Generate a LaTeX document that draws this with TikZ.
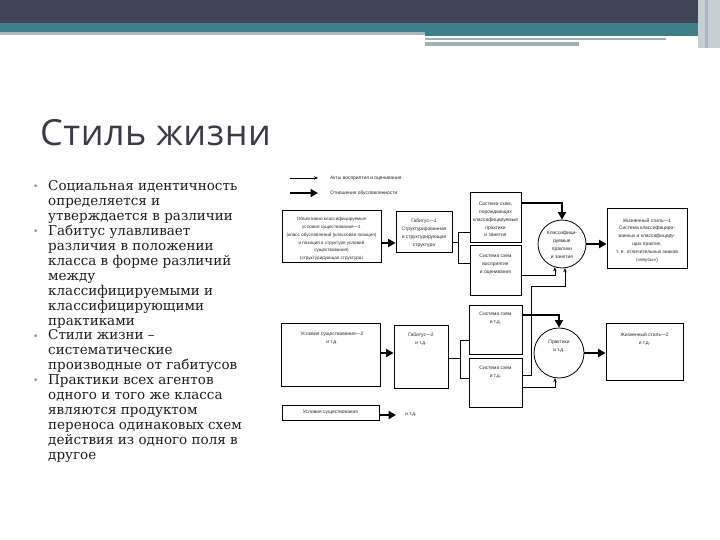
\documentclass[tikz,border=0pt]{standalone}
\usepackage{fontspec}
\setmainfont{DejaVu Serif}
\newfontfamily\titlefont{Open Sans}
\newfontfamily\dfont{Liberation Sans}
\usetikzlibrary{arrows.meta,calc}
\definecolor{hdrdark}{HTML}{3F4556}
\definecolor{hdrteal}{HTML}{3F7F88}
\definecolor{hdrlight}{HTML}{A9B8BE}
\definecolor{hdrgray}{HTML}{9FB0B3}
\definecolor{titlecol}{HTML}{3A3A48}
\definecolor{bodytext}{HTML}{1E1E1E}
\definecolor{bulletcol}{HTML}{8A8A8A}
\definecolor{dtext}{HTML}{262626}
\tikzset{
  dbox/.style={draw=black, line width=0.8pt, inner sep=0pt},
  dtxt/.style={font=\dfont\fontsize{4.9}{7.9}\selectfont, text=dtext, align=center, inner sep=0pt},
  dcirc/.style={draw=black, line width=0.8pt, circle, inner sep=0pt},
  thinarr/.style={line width=0.6pt, -{Stealth[length=4pt,width=3.5pt]}},
  thickarr/.style={line width=2.2pt, -{Triangle[length=7.5pt,width=8pt]}},
  plainline/.style={line width=0.6pt},
  bul/.style={font=\fontsize{9}{9}\selectfont, text=bulletcol, anchor=base west, inner sep=0pt}
}
\begin{document}
\begin{tikzpicture}[x=1pt,y=-1pt]
\useasboundingbox (0,0) rectangle (720,540);
% header
\fill[hdrdark] (0,0) rectangle (720,23);
\fill[hdrteal] (0,23) rectangle (698,32);
\fill[hdrlight] (0,32) rectangle (425,35);
\fill[hdrteal] (425,32) rectangle (698,36);
\fill[hdrgray] (425,38) rectangle (666,40);
\fill[hdrgray] (425,42) rectangle (579,46);
\fill[hdrgray!60] (698,0) rectangle (720,48);
\fill[hdrlight] (705,0) rectangle (708,48);
% title
\node[anchor=base west, inner sep=0pt, text=titlecol] (title) at (40,146)
  {\titlefont\addfontfeature{LetterSpace=1.5}\fontsize{36}{36}\selectfont Стиль жизни};
% bullets
\node[anchor=base west, inner sep=0pt, text=bodytext] (body) at (48,191)
 {\parbox[t]{240pt}{\fontsize{13.5}{14.9}\selectfont\raggedright
 Социальная идентичность\\
 определяется и\\
 утверждается в различии\\
 Габитус улавливает\\
 различия в положении\\
 класса в форме различий\\
 между\\
 классифицируемыми и\\
 классифицирующими\\
 практиками\\
 Стили жизни –\\
 систематические\\
 производные от габитусов\\
 Практики всех агентов\\
 одного и того же класса\\
 являются продуктом\\
 переноса одинаковых схем\\
 действия из одного поля в\\
 другое}};
\node[bul] (b1) at (33,190) {•};
\node[bul] (b2) at (33,234.7) {•};
\node[bul] (b3) at (33,339) {•};
\node[bul] (b4) at (33,383.7) {•};
% legend
\coordinate (la1) at (290,178); \coordinate (la2) at (318,178);
\coordinate (lb1) at (290,193); \coordinate (lb2) at (318,193);
\draw[thinarr] (la1) -- (la2);
\draw[thickarr] (lb1) -- (lb2);
\node[dtxt, anchor=west] (lt1) at (330,178) {Акты восприятия и оценивания};
\node[dtxt, anchor=west] (lt2) at (330,193) {Отношения обусловленности};
% row 1
\node[dbox, minimum width=99pt, minimum height=52pt] (box1) at (331.5,236) {};
\node[dtxt, font=\dfont\fontsize{4.6}{7.7}\selectfont] (box1t) at (331.5,239) {Объективно классифицируемые\\условия существования—1\\(класс обусловлений (классовая позиция)\\и позиция в структуре условий\\существования)\\(структурирующая структура)};
\node[dbox, minimum width=56pt, minimum height=41pt] (hab1) at (424,231.5) {};
\node[dtxt] (hab1t) at (424,233) {Габитус—1\\Структурированная\\и структурирующая\\структура};
\node[dbox, minimum width=51pt, minimum height=50pt] (sysA) at (495.5,217) {};
\node[dtxt] (sysAt) at (495.5,219.5) {Система схем,\\порождающих\\классифицируемые\\практики\\и занятия};
\node[dbox, minimum width=51pt, minimum height=50pt] (sysB) at (495.5,270) {};
\node[dtxt] (sysBt) at (495.5,264.5) {Система схем\\восприятия\\и оценивания};
\node[dcirc, minimum size=48pt] (c1) at (562,244) {};
\node[dtxt] (c1t) at (562,245) {Классифици-\\руемые\\практики\\и занятия};
\node[dbox, minimum width=80pt, minimum height=60pt] (life1) at (647,238) {};
\node[dtxt] (life1t) at (647,240.5) {Жизненный стиль—1\\Система классифициро-\\ванных и классифициру-\\щих практик,\\т. е. отличительных знаков\\(«вкусы»)};
% row 2
\node[dbox, minimum width=99pt, minimum height=63pt] (cond2) at (330.5,354.5) {};
\node[dtxt] (cond2t) at (332,338.5) {Условия существования—2\\и т.д.};
\node[dbox, minimum width=54pt, minimum height=63pt] (hab2) at (421,356.5) {};
\node[dtxt] (hab2t) at (421,339) {Габитус—2\\и т.д.};
\node[dbox, minimum width=53pt, minimum height=49pt] (sysC) at (495.5,329.5) {};
\node[dtxt] (sysCt) at (495.5,318.5) {Система схем\\и т.д.};
\node[dbox, minimum width=53pt, minimum height=49pt] (sysD) at (495.5,382.5) {};
\node[dtxt] (sysDt) at (495.5,372) {Система схем\\и т.д.};
\node[dcirc, minimum size=50pt] (c2) at (559,353) {};
\node[dtxt] (c2t) at (559,346) {Практики\\и т.д.};
\node[dbox, minimum width=77pt, minimum height=57pt] (life2) at (644.5,351.5) {};
\node[dtxt] (life2t) at (644.5,339) {Жизненный стиль—2\\и т.д.};
% row 3
\node[dbox, minimum width=97pt, minimum height=15pt] (cond3) at (330.5,412.5) {};
\node[dtxt] (cond3t) at (330.5,412.5) {Условия существования};
\node[dtxt, anchor=west] (etc) at (405,415) {и т.д.};
% connectors row 1
\draw[thickarr] ([yshift=-7pt]box1.east) -- ([yshift=-7pt]box1.east -| hab1.west);
\coordinate (b1t) at (458,232);
\coordinate (b1b) at (458,263);
\draw[plainline] ([yshift=-10.5pt]hab1.east) -- ([yshift=-10.5pt]hab1.east -| b1t);
\draw[plainline] (sysA.west |- b1t) -- (b1t) -- (b1b) -- (sysB.west |- b1b);
\draw[thickarr] ([yshift=14pt]sysA.east) -| (c1.north);
\draw[thinarr] ([yshift=-5pt]sysB.east) -| (c1.253);
\coordinate (v1) at (531,286);
\draw[thinarr] ([yshift=7.5pt]sysD.east) -| (v1) -| (c1.277);
\draw[thickarr] (c1.east) -- (c1.east -| life1.west);
% connectors row 2
\draw[thickarr] ([yshift=1.5pt]cond2.east) -- ([yshift=1.5pt]cond2.east -| hab2.west);
\coordinate (b2t) at (460,340);
\coordinate (b2b) at (460,378);
\draw[plainline] ([yshift=-1.5pt]hab2.east) -- ([yshift=-1.5pt]hab2.east -| b2t);
\draw[plainline] (sysC.west |- b2t) -- (b2t) -- (b2b) -- (sysD.west |- b2b);
\draw[thickarr] ([yshift=14.5pt]sysC.east) -| (c2.north);
\draw[thinarr] ([yshift=-4.5pt]sysD.east) -| (c2.261);
\draw[thickarr] (c2.east) -- (c2.east -| life2.west);
% row 3
\draw[thickarr, shorten >=9pt] ([yshift=-2.5pt]cond3.east) -- ([yshift=-2.5pt]cond3.east -| etc.west);
\end{tikzpicture}
\end{document}
